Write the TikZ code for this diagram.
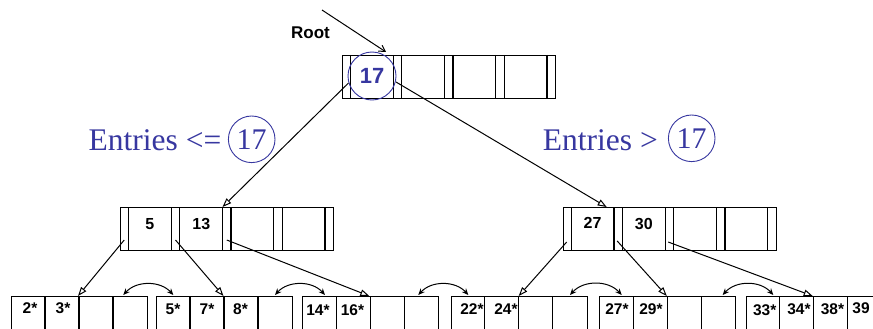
\documentclass[tikz,border=0pt]{standalone}
\usepackage{fontspec}
\setmainfont{Liberation Serif}
\setsansfont{Liberation Sans}
\usetikzlibrary{arrows.meta,calc}

\definecolor{keyblue}{RGB}{55,55,160}

% vertical separators of an index page: pointer slots and key cells
\newcommand\idxdividers[1]{%
  \foreach \d in {8.5,51.25,59.75,102.5,111,153.75,162.25,205}{%
    \draw[box] ($(#1.north west)+(\d,0)$) -- ($(#1.south west)+(\d,0)$);}}
% vertical separators of a leaf page: four data-entry cells
\newcommand\leafdividers[1]{%
  \foreach \d in {34,68,102}{%
    \draw[box] ($(#1.north west)+(\d,0)$) -- ($(#1.south west)+(\d,0)$);}}

\begin{document}
\begin{tikzpicture}[x=1pt,y=-1pt,
  box/.style={draw,line width=1.1pt},
  idxpage/.style={box,anchor=north west,inner sep=0pt,minimum width=213pt,minimum height=42.5pt},
  leafpage/.style={box,anchor=north west,inner sep=0pt,minimum width=136pt,minimum height=45pt},
  ptr/.style={line width=1pt,-{Triangle[open,fill=white,length=9pt,width=6.5pt]}},
  sib/.style={line width=1pt,{Stealth[length=6.5pt,width=5.5pt]}-{Stealth[length=6.5pt,width=5.5pt]}},
  keytxt/.style={font=\sffamily\bfseries\fontsize{16}{16}\selectfont},
  leaftxt/.style={font=\sffamily\bfseries\fontsize{15.5}{15.5}\selectfont},
  bluetxt/.style={text=keyblue,font=\fontsize{31.5}{31.5}\selectfont}]

\useasboundingbox (0,0) rectangle (873,329);
\clip (0,0) rectangle (873,329);

% ---------- root page ----------
\node[idxpage] (R) at (342,55) {};
\idxdividers{R}
\node[circle,draw=keyblue,line width=0.9pt,minimum size=48pt,inner sep=0pt,
      text=keyblue,font=\sffamily\bfseries\fontsize{22}{22}\selectfont] (k17) at (372,76) {17};
\node[font=\sffamily\bfseries\fontsize{17}{17}\selectfont] (rootlbl) at (310.5,33) {Root};
\coordinate (rootsrc) at (322,10);
\draw[line width=1pt,-{Straight Barb[length=6pt,width=7pt]}] (rootsrc) -- ($(R.north west)+(44,-3)$);

% ---------- index pages ----------
\node[idxpage] (L) at (120,207) {};
\idxdividers{L}
\node[keytxt] (k5)  at (149.9,224) {5};
\node[keytxt] (k13) at (201.3,224) {13};

\node[idxpage] (M) at (562.7,207) {};
\idxdividers{M}
\node[keytxt] (k27) at (592.6,223) {27};
\node[keytxt] (k30) at (643.8,224) {30};

% ---------- range labels ----------
\node[bluetxt,anchor=base east,inner sep=0pt] (lelbl) at (221.5,150) {Entries <=};
\node[circle,draw=keyblue,line width=0.9pt,minimum size=46.6pt,inner sep=0pt,bluetxt,
      font=\fontsize{30}{30}\selectfont] (lc17) at (251.7,139.3) {17};
\node[bluetxt,anchor=base east,inner sep=0pt] (rilbl) at (658,150) {Entries >};
\node[circle,draw=keyblue,line width=0.9pt,minimum size=46.6pt,inner sep=0pt,bluetxt,
      font=\fontsize{30}{30}\selectfont] (rc17) at (691.7,138.3) {17};

% ---------- leaf pages ----------
\node[leafpage] (f1) at (11,296) {};
\node[leafpage] (f2) at (156,296) {};
\node[leafpage] (f3) at (302.3,296) {};
\node[leafpage] (f4) at (450.7,296) {};
\node[leafpage] (f5) at (599.3,296) {};
\node[leafpage] (f6) at (745.7,296) {};
\foreach \f in {f1,f2,f3,f4,f5,f6}{\leafdividers{\f}}

\node[leaftxt] (e2)  at (30,308)    {2*};
\node[leaftxt] (e3)  at (63,308)    {3*};
\node[leaftxt] (e5)  at (173,309)   {5*};
\node[leaftxt] (e7)  at (207,309)   {7*};
\node[leaftxt] (e8)  at (240.5,309) {8*};
\node[leaftxt] (e14) at (318,310)   {14*};
\node[leaftxt] (e16) at (352.5,310) {16*};
\node[leaftxt] (e22) at (472,309)   {22*};
\node[leaftxt] (e24) at (506,309)   {24*};
\node[leaftxt] (e27) at (617,309)   {27*};
\node[leaftxt] (e29) at (651,309)   {29*};
\node[leaftxt] (e33) at (764.7,310) {33*};
\node[leaftxt] (e34) at (799,309)   {34*};
\node[leaftxt] (e38) at (832.5,309) {38*};
\node[leaftxt] (e39) at (861,308)   {39};

% ---------- child pointers ----------
\draw[ptr] ($(R.north west)+(6.5,28)$)  -- ($(L.north west)+(102.5,0)$);
\draw[ptr] ($(R.north west)+(54,27)$)   -- ($(M.north west)+(44,0)$);

\draw[ptr] ($(L.north west)+(4.25,33)$)   -- ($(f1.north west)+(67,0)$);
\draw[ptr] ($(L.north west)+(55.5,33)$)   -- ($(f2.north west)+(67.5,0)$);
\draw[ptr] ($(L.north west)+(106.75,33)$) -- ($(f3.north west)+(67,0)$);

\draw[ptr] ($(M.north west)+(4,35)$)     -- ($(f4.north west)+(68,0)$);
\draw[ptr] ($(M.north west)+(54.5,34)$)  -- ($(f5.north west)+(67.5,0)$);
\draw[ptr] ($(M.north west)+(105.5,35)$) -- ($(f6.north west)+(67,0)$);

% ---------- sibling links ----------
\draw[sib] ($(f1.north west)+(112.3,-1)$) to[bend left=48] ($(f2.north west)+(17.3,-1)$);
\draw[sib] ($(f2.north west)+(119,-1)$)   to[bend left=48] ($(f3.north west)+(22.7,-1)$);
\draw[sib] ($(f3.north west)+(116,-1)$)   to[bend left=48] ($(f4.north west)+(17.6,-1)$);
\draw[sib] ($(f4.north west)+(119.3,-1)$) to[bend left=48] ($(f5.north west)+(22.4,-1)$);
\draw[sib] ($(f5.north west)+(123.4,-1)$) to[bend left=48] ($(f6.north west)+(27.6,-1)$);

\end{tikzpicture}
\end{document}
